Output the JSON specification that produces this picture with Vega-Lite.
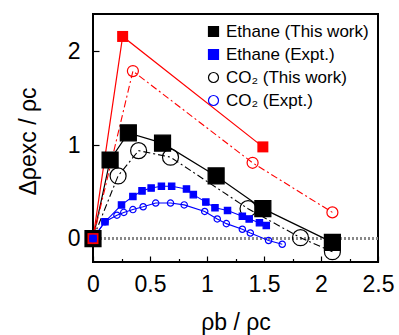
{
  "$schema": "https://vega.github.io/schema/vega-lite/v6.json",
  "autosize": {"type": "none"},
  "padding": {"left": 93, "top": 14, "right": 21, "bottom": 73},
  "width": 285,
  "height": 248,
  "background": "white",
  "config": {
    "view": {"stroke": "black", "strokeWidth": 2},
    "font": "Liberation Sans",
    "axis": {"grid": false, "domain": false, "tickColor": "black", "tickWidth": 1.2, "labelColor": "black", "titleColor": "black", "titleFontWeight": "normal", "labelFontSize": 23, "titleFontSize": 23, "labelFont": "Liberation Sans", "titleFont": "Liberation Sans"},
    "legend": {"labelFontSize": 17, "labelFont": "Liberation Sans", "labelColor": "black", "labelLimit": 400, "rowPadding": 5, "symbolStrokeWidth": 1.2}
  },
  "datasets": {
    "d": [
      {"s": "eth_tw", "g": "Ethane (This work)", "x": 0, "y": 0},
      {"s": "eth_tw", "g": "Ethane (This work)", "x": 0.15, "y": 0.84},
      {"s": "eth_tw", "g": "Ethane (This work)", "x": 0.31, "y": 1.13},
      {"s": "eth_tw", "g": "Ethane (This work)", "x": 0.61, "y": 1.02},
      {"s": "eth_tw", "g": "Ethane (This work)", "x": 1.08, "y": 0.67},
      {"s": "eth_tw", "g": "Ethane (This work)", "x": 1.49, "y": 0.32},
      {"s": "eth_tw", "g": "Ethane (This work)", "x": 2.1, "y": -0.04},
      {"s": "eth_tw2", "g": "Ethane (This work)", "x": 0, "y": 0},
      {"s": "eth_tw2", "g": "Ethane (This work)", "x": 0.26, "y": 2.16},
      {"s": "eth_tw2", "g": "Ethane (This work)", "x": 1.49, "y": 0.98},
      {"s": "co2_tw", "g": "CO₂ (This work)", "x": 0, "y": 0},
      {"s": "co2_tw", "g": "CO₂ (This work)", "x": 0.22, "y": 0.67},
      {"s": "co2_tw", "g": "CO₂ (This work)", "x": 0.4, "y": 0.94},
      {"s": "co2_tw", "g": "CO₂ (This work)", "x": 0.68, "y": 0.87},
      {"s": "co2_tw", "g": "CO₂ (This work)", "x": 1.36, "y": 0.32},
      {"s": "co2_tw", "g": "CO₂ (This work)", "x": 1.82, "y": 0.01},
      {"s": "co2_tw", "g": "CO₂ (This work)", "x": 2.1, "y": -0.14},
      {"s": "co2_tw2", "g": "CO₂ (This work)", "x": 0, "y": 0},
      {"s": "co2_tw2", "g": "CO₂ (This work)", "x": 0.35, "y": 1.79},
      {"s": "co2_tw2", "g": "CO₂ (This work)", "x": 1.4, "y": 0.81},
      {"s": "co2_tw2", "g": "CO₂ (This work)", "x": 2.1, "y": 0.28},
      {"s": "eth_ex", "g": "Ethane (Expt.)", "x": 0, "y": 0},
      {"s": "eth_ex", "g": "Ethane (Expt.)", "x": 0.105, "y": 0.18},
      {"s": "eth_ex", "g": "Ethane (Expt.)", "x": 0.25, "y": 0.36},
      {"s": "eth_ex", "g": "Ethane (Expt.)", "x": 0.35, "y": 0.45},
      {"s": "eth_ex", "g": "Ethane (Expt.)", "x": 0.43, "y": 0.51},
      {"s": "eth_ex", "g": "Ethane (Expt.)", "x": 0.51, "y": 0.54},
      {"s": "eth_ex", "g": "Ethane (Expt.)", "x": 0.6, "y": 0.56},
      {"s": "eth_ex", "g": "Ethane (Expt.)", "x": 0.69, "y": 0.56},
      {"s": "eth_ex", "g": "Ethane (Expt.)", "x": 0.82, "y": 0.53},
      {"s": "eth_ex", "g": "Ethane (Expt.)", "x": 0.88, "y": 0.47},
      {"s": "eth_ex", "g": "Ethane (Expt.)", "x": 0.99, "y": 0.39},
      {"s": "eth_ex", "g": "Ethane (Expt.)", "x": 1.07, "y": 0.33},
      {"s": "eth_ex", "g": "Ethane (Expt.)", "x": 1.18, "y": 0.3},
      {"s": "eth_ex", "g": "Ethane (Expt.)", "x": 1.31, "y": 0.24},
      {"s": "eth_ex", "g": "Ethane (Expt.)", "x": 1.37, "y": 0.21},
      {"s": "eth_ex", "g": "Ethane (Expt.)", "x": 1.46, "y": 0.17},
      {"s": "eth_ex", "g": "Ethane (Expt.)", "x": 1.52, "y": 0.14},
      {"s": "co2_ex", "g": "CO₂ (Expt.)", "x": 0, "y": 0},
      {"s": "co2_ex", "g": "CO₂ (Expt.)", "x": 0.105, "y": 0.18},
      {"s": "co2_ex", "g": "CO₂ (Expt.)", "x": 0.21, "y": 0.25},
      {"s": "co2_ex", "g": "CO₂ (Expt.)", "x": 0.27, "y": 0.28},
      {"s": "co2_ex", "g": "CO₂ (Expt.)", "x": 0.35, "y": 0.31},
      {"s": "co2_ex", "g": "CO₂ (Expt.)", "x": 0.44, "y": 0.34},
      {"s": "co2_ex", "g": "CO₂ (Expt.)", "x": 0.55, "y": 0.38},
      {"s": "co2_ex", "g": "CO₂ (Expt.)", "x": 0.68, "y": 0.38},
      {"s": "co2_ex", "g": "CO₂ (Expt.)", "x": 0.8, "y": 0.36},
      {"s": "co2_ex", "g": "CO₂ (Expt.)", "x": 0.98, "y": 0.29},
      {"s": "co2_ex", "g": "CO₂ (Expt.)", "x": 1.09, "y": 0.21},
      {"s": "co2_ex", "g": "CO₂ (Expt.)", "x": 1.17, "y": 0.16},
      {"s": "co2_ex", "g": "CO₂ (Expt.)", "x": 1.31, "y": 0.1},
      {"s": "co2_ex", "g": "CO₂ (Expt.)", "x": 1.38, "y": 0.06},
      {"s": "co2_ex", "g": "CO₂ (Expt.)", "x": 1.54, "y": -0.02},
      {"s": "co2_ex", "g": "CO₂ (Expt.)", "x": 1.66, "y": -0.06}
    ]
  },
  "data": {"name": "d"},
  "encoding": {
    "x": {"field": "x", "type": "quantitative", "scale": {"domain": [0, 2.5], "nice": false, "zero": false},
      "axis": {"title": "ρb / ρc", "values": [0, 0.25, 0.5, 0.75, 1, 1.25, 1.5, 1.75, 2, 2.25, 2.5], "format": "~g", "labelExpr": "datum.value % 0.5 == 0 ? datum.label : ''", "labelFlush": false, "labelOverlap": false, "tickSize": {"condition": {"test": "datum.value % 0.5 == 0", "value": -6}, "value": -3.5}, "labelPadding": 17, "titleX": 142.5, "titleY": 67, "titleBaseline": "alphabetic", "titleAlign": "center"}},
    "y": {"field": "y", "type": "quantitative", "scale": {"domain": [-0.25, 2.4], "nice": false, "zero": false},
      "axis": {"title": "Δρexc / ρc", "values": [0, 1, 2], "tickSize": -6, "labelPadding": 19, "titleX": -58, "titleY": 127, "titleAngle": -90, "titleAlign": "center", "titleBaseline": "alphabetic"}}
  },
  "layer": [
    {"mark": {"type": "rule", "color": "#888888", "strokeDash": [2, 2], "strokeWidth": 1.5}, "encoding": {"y": {"datum": 0}, "x": null}},
    {"transform": [{"filter": "datum.s == 'eth_tw'"}], "mark": {"type": "line", "color": "black", "strokeWidth": 1.2}},
    {"transform": [{"filter": "datum.s == 'co2_tw'"}], "mark": {"type": "line", "color": "black", "strokeWidth": 1.1, "strokeDash": [7, 3, 2, 3]}},
    {"transform": [{"filter": "datum.s == 'eth_tw2'"}], "mark": {"type": "line", "color": "red", "strokeWidth": 1.2}},
    {"transform": [{"filter": "datum.s == 'co2_tw2'"}], "mark": {"type": "line", "color": "red", "strokeWidth": 1.1, "strokeDash": [7, 3, 2, 3]}},
    {"transform": [{"filter": "datum.s == 'eth_ex'"}], "mark": {"type": "line", "color": "blue", "strokeWidth": 1.1}},
    {"transform": [{"filter": "datum.s == 'co2_ex'"}], "mark": {"type": "line", "color": "blue", "strokeWidth": 1.1}},
    {"transform": [{"filter": "datum.s == 'eth_tw' || (datum.s == 'co2_tw' && datum.x > 0)"}],
      "mark": {"type": "point", "opacity": 1, "strokeWidth": 1.2, "clip": false, "size": 256},
      "encoding": {
        "shape": {"field": "g", "type": "nominal", "scale": {"domain": ["Ethane (This work)", "Ethane (Expt.)", "CO₂ (This work)", "CO₂ (Expt.)"], "range": ["square", "square", "circle", "circle"]}, "legend": {"title": null, "orient": "top-right", "offset": 9, "encode": {"symbols": {"update": {"size": {"signal": "indexof(datum.value, 'Expt') >= 0 ? 40 : 230"}}}}}},
        "fill": {"field": "g", "type": "nominal", "scale": {"domain": ["Ethane (This work)", "Ethane (Expt.)", "CO₂ (This work)", "CO₂ (Expt.)"], "range": ["black", "blue", "transparent", "transparent"]}, "legend": {"title": null, "orient": "top-right", "offset": 9}},
        "stroke": {"field": "g", "type": "nominal", "scale": {"domain": ["Ethane (This work)", "Ethane (Expt.)", "CO₂ (This work)", "CO₂ (Expt.)"], "range": ["black", "blue", "black", "blue"]}, "legend": {"title": null, "orient": "top-right", "offset": 9}}
      }},
    {"transform": [{"filter": "datum.s == 'eth_tw2'"}], "mark": {"type": "point", "shape": "square", "filled": true, "color": "red", "opacity": 1, "size": 121, "clip": false}},
    {"transform": [{"filter": "datum.s == 'co2_tw2' && datum.x > 0"}], "mark": {"type": "point", "shape": "circle", "filled": false, "color": "red", "opacity": 1, "size": 121, "strokeWidth": 1.2, "clip": false}},
    {"transform": [{"filter": "datum.s == 'eth_ex' || datum.s == 'co2_ex'"}], "mark": {"type": "point", "opacity": 1, "strokeWidth": 1.2, "clip": false, "size": 40},
      "encoding": {"shape": {"field": "g", "type": "nominal"}, "fill": {"field": "g", "type": "nominal"}, "stroke": {"field": "g", "type": "nominal"}}}
  ]
}
